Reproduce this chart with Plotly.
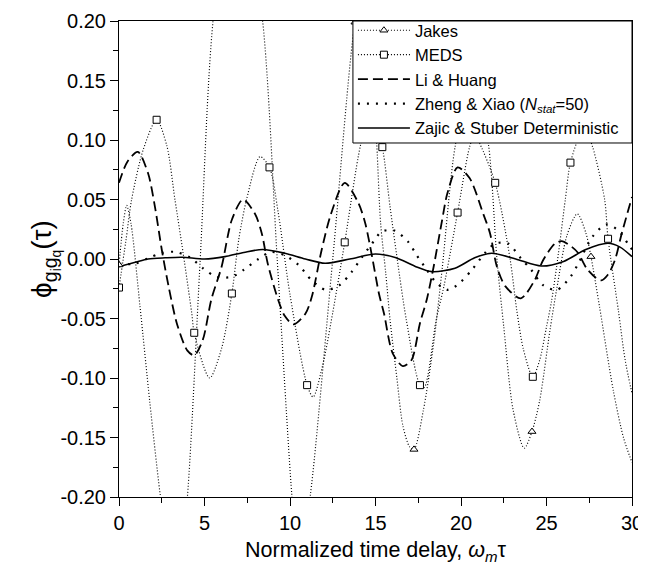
import plotly.graph_objects as go

# ---------------- data ----------------
jakes_tau = [0, 0.25, 0.45, 0.7, 1.23, 1.8, 2.4, 3.2, 3.45, 4.0, 4.75, 5.5, 6.9, 8.4, 9.25,
             10.1, 10.35, 10.65, 11.2, 12.5, 13.8, 14.3, 14.7, 15.07, 15.3, 15.6, 15.85, 16.25,
             16.6, 17.0, 17.25, 17.8, 18.4, 18.9, 19.65, 20.7, 21.6, 22.1, 22.5, 23.05, 23.7,
             24.15, 24.6, 25.2, 25.6, 26.2, 26.8, 27.3, 27.6, 28.1, 28.9, 29.5, 30]
jakes_phi = [-0.005, 0.03, 0.045, 0.03, -0.04, -0.12, -0.197, -0.28, -0.275, -0.2, 0.0, 0.2, 0.34,
             0.2, 0.0, -0.197, -0.235, -0.245, -0.197, 0.0, 0.199, 0.23, 0.18, 0.097, 0.03, -0.012,
             -0.051, -0.1, -0.14, -0.158, -0.16, -0.127, -0.071, -0.008, 0.094, 0.16, 0.097, 0.0,
             -0.057, -0.127, -0.159, -0.145, -0.119, -0.06, -0.025, 0.02, 0.038, 0.022, 0.002,
             -0.04, -0.11, -0.15, -0.171]
jakes_marks = [0, 3.45, 6.9, 10.35, 13.8, 17.25, 20.7, 24.15, 27.6]

meds_tau = [0, 0.4, 0.74, 1.42, 2.2, 2.8, 3.27, 3.75, 4.25, 4.4, 5.3, 6.0, 6.6, 7.0, 7.46, 8.25,
            8.8, 9.3, 10.0, 11.0, 11.35, 11.9, 12.5, 13.2, 14.1, 14.6, 15.0, 15.4, 15.85, 16.25,
            16.8, 17.6, 17.85, 18.55, 19.0, 19.8, 20.5, 20.8, 21.1, 22.0, 22.87, 23.26, 23.65,
            24.2, 24.6, 25.0, 25.3, 25.7, 26.1, 26.4, 27.0, 27.3, 27.7, 28.4, 28.6, 29.2, 29.6, 30]
meds_phi = [-0.024, 0.015, 0.05, 0.092, 0.117, 0.095, 0.05, 0.005, -0.045, -0.062, -0.1, -0.075,
            -0.029, 0.016, 0.05, 0.086, 0.077, 0.04, -0.03, -0.106, -0.116, -0.09, -0.045, 0.014,
            0.094, 0.12, 0.115, 0.094, 0.044, 0.002, -0.051, -0.106, -0.108, -0.051, -0.023,
            0.039, 0.094, 0.105, 0.097, 0.064, 0.0, -0.043, -0.076, -0.099, -0.085, -0.057,
            -0.035, 0.005, 0.05, 0.081, 0.105, 0.108, 0.094, 0.05, 0.017, -0.043, -0.085, -0.113]
meds_marks = [0, 2.2, 4.4, 6.6, 8.8, 11.0, 13.2, 15.4, 17.6, 19.8, 22.0, 24.2, 26.4, 28.6]

li_tau = [0, 0.5, 1.1, 1.7, 2.1, 2.5, 2.9, 3.4, 4.0, 4.4, 4.9, 5.4, 6.0, 6.6, 7.25, 7.95, 8.35,
          8.7, 9.3, 9.7, 10.2, 10.9, 11.27, 11.85, 12.4, 13.2, 14.0, 14.4, 14.8, 15.2, 15.5,
          16.0, 16.6, 17.1, 17.6, 18.0, 18.4, 18.9, 19.2, 19.8, 20.5, 21.3, 21.7, 22.1, 22.6,
          23.5, 24.3, 24.8, 25.5, 25.9, 26.5, 26.85, 27.35, 27.9, 28.2, 28.6, 29.0, 29.4, 30]
li_phi = [0.064, 0.082, 0.090, 0.072, 0.044, 0.008, -0.023, -0.055, -0.077, -0.081, -0.068,
          -0.034, -0.0065, 0.033, 0.05, 0.038, 0.0215, -0.004, -0.034, -0.048, -0.055, -0.046,
          -0.032, 0.0076, 0.038, 0.064, 0.047, 0.030, 0.002, -0.029, -0.046, -0.079, -0.09,
          -0.085, -0.054, -0.034, -0.0065, 0.033, 0.055, 0.077, 0.068, 0.038, 0.0215, -0.0065,
          -0.023, -0.033, -0.018, -0.001, 0.013, 0.015, 0.010, 0.005, -0.008, -0.016, -0.018,
          -0.013, -0.001, 0.0215, 0.052]

zx_tau = [0, 0.9, 1.7, 2.5, 3.27, 4.15, 4.93, 5.7, 6.6, 7.3, 8.15, 8.9, 9.7, 10.5, 11.27, 12.1,
          12.9, 13.6, 14.2, 14.8, 15.36, 16.1, 16.9, 17.4, 18.0, 18.5, 19.25, 20.0, 20.7, 21.4,
          22.0, 22.75, 23.5, 24.1, 24.8, 25.6, 26.4, 26.85, 27.7, 28.5, 29.2, 29.8, 30]
zx_phi = [-0.004, -0.004, 0.0006, 0.005, 0.006, 0.0014, -0.008, -0.015, -0.015, -0.009, 0.0,
          0.006, 0.003, -0.005, -0.018, -0.026, -0.022, -0.011, 0.0014, 0.013, 0.023, 0.024,
          0.0146, 0.0034, -0.009, -0.019, -0.026, -0.019, -0.008, 0.005, 0.013, 0.013, 0.0006,
          -0.009, -0.022, -0.026, -0.015, -0.004, 0.019, 0.029, 0.024, 0.012, 0.008]

zs_tau = [0, 1, 1.7, 2.7, 3.7, 5, 6.2, 7.3, 8.4, 9.7, 10.9, 12.05, 13.5, 15.0, 16.2, 17.3, 18.3,
          19.65, 20.8, 21.8, 23.2, 24.7, 26, 27.3, 28.6, 29.3, 30]
zs_phi = [-0.0065, -0.0025, 0, 0.001, 0.0015, 0, 0.002, 0.0055, 0.008, 0.0048, 0.0, -0.0036,
          0.0, 0.0042, 0.001, -0.006, -0.0106, -0.0078, 0.001, 0.0048, 0.0, -0.0059, -0.002,
          0.008, 0.0132, 0.010, 0.002]

x_ticks = [0, 5, 10, 15, 20, 25, 30]
y_ticks = [-0.20, -0.15, -0.10, -0.05, 0.00, 0.05, 0.10, 0.15, 0.20]
y_ticktext = ["-0.20", "-0.15", "-0.10", "-0.05", "0.00", "0.05", "0.10", "0.15", "0.20"]

names = ["Jakes", "MEDS", "Li & Huang", "Zheng & Xiao (<i>N</i><sub><i>stat</i></sub>=50)",
         "Zajic & Stuber Deterministic"]

# ---------------- figure ----------------
FONT = "Liberation Sans, Arial, sans-serif"
DOT = "1px,2px"
fig = go.Figure()

def curve(x, y, dash, width):
    fig.add_trace(go.Scatter(x=x, y=y, mode="lines", showlegend=False,
                             line=dict(color="black", width=width, dash=dash, shape="spline",
                                       smoothing=0.8),
                             hoverinfo="skip"))

curve(jakes_tau, jakes_phi, DOT, 1.15)
curve(meds_tau, meds_phi, DOT, 1.15)
curve(li_tau, li_phi, "10px,5px", 1.8)
curve(zx_tau, zx_phi, "2px,7px", 2.2)
curve(zs_tau, zs_phi, "solid", 1.6)

jm_y = [jakes_phi[jakes_tau.index(t)] for t in jakes_marks]
mm_y = [meds_phi[meds_tau.index(t)] for t in meds_marks]
fig.add_trace(go.Scatter(x=jakes_marks, y=jm_y, mode="markers", showlegend=False,
                         marker=dict(symbol="triangle-up", size=7, color="white",
                                     line=dict(color="black", width=1))))
fig.add_trace(go.Scatter(x=meds_marks, y=mm_y, mode="markers", showlegend=False,
                         marker=dict(symbol="square", size=7, color="white",
                                     line=dict(color="black", width=1))))

# legend entries
fig.add_trace(go.Scatter(x=[None], y=[None], mode="lines+markers", name=names[0],
                         line=dict(color="black", width=1.15, dash=DOT),
                         marker=dict(symbol="triangle-up", size=7, color="white",
                                     line=dict(color="black", width=1))))
fig.add_trace(go.Scatter(x=[None], y=[None], mode="lines+markers", name=names[1],
                         line=dict(color="black", width=1.15, dash=DOT),
                         marker=dict(symbol="square", size=7, color="white",
                                     line=dict(color="black", width=1))))
fig.add_trace(go.Scatter(x=[None], y=[None], mode="lines", name=names[2],
                         line=dict(color="black", width=1.8, dash="10px,5px")))
fig.add_trace(go.Scatter(x=[None], y=[None], mode="lines", name=names[3],
                         line=dict(color="black", width=2.2, dash="2px,7px")))
fig.add_trace(go.Scatter(x=[None], y=[None], mode="lines", name=names[4],
                         line=dict(color="black", width=1.6)))

# legend frame (white box with black border over the curves)
fig.add_shape(type="rect", xref="paper", yref="paper", x0=0.456, x1=1.0, y0=0.7437, y1=1.0,
              fillcolor="white", line=dict(color="black", width=1), layer="above")

fig.update_layout(
    width=638, height=557,
    margin=dict(l=111, r=14, t=13, b=68, autoexpand=False),
    paper_bgcolor="white", plot_bgcolor="white",
    font=dict(family=FONT, size=17, color="black"),
    showlegend=True,
    legend=dict(x=0.456, y=1.0168, xanchor="left", yanchor="top",
                bgcolor="rgba(0,0,0,0)", borderwidth=0, itemwidth=52,
                font=dict(family=FONT, size=16.5), tracegroupgap=0,
                traceorder="normal"),
    xaxis=dict(range=[0, 30], tickvals=x_ticks, ticks="outside", ticklen=8, tickwidth=1,
               tickcolor="black", showline=True, linecolor="black", linewidth=1, mirror=True,
               showgrid=False, zeroline=False, automargin=False,
               minor=dict(ticks="outside", ticklen=5, dtick=2.5, tickcolor="black",
                          showgrid=False),
               tickfont=dict(size=20),
               title=dict(text="Normalized time delay, <i>ω<sub>m</sub></i>τ",
                          font=dict(size=21.5), standoff=11)),
    yaxis=dict(range=[-0.2, 0.2], tickvals=y_ticks, ticktext=y_ticktext, ticks="outside",
               ticklen=8, tickwidth=1, tickcolor="black", showline=True, linecolor="black",
               linewidth=1, mirror=True, showgrid=False, zeroline=False, automargin=False,
               minor=dict(ticks="outside", ticklen=5, dtick=0.025, tickcolor="black",
                          showgrid=False),
               tickfont=dict(size=20),
               title=dict(text="ϕ<sub>g<sub>i</sub>g<sub>q</sub></sub>(τ)",
                          font=dict(size=28), standoff=0)),
)

fig.write_html("out.html")
